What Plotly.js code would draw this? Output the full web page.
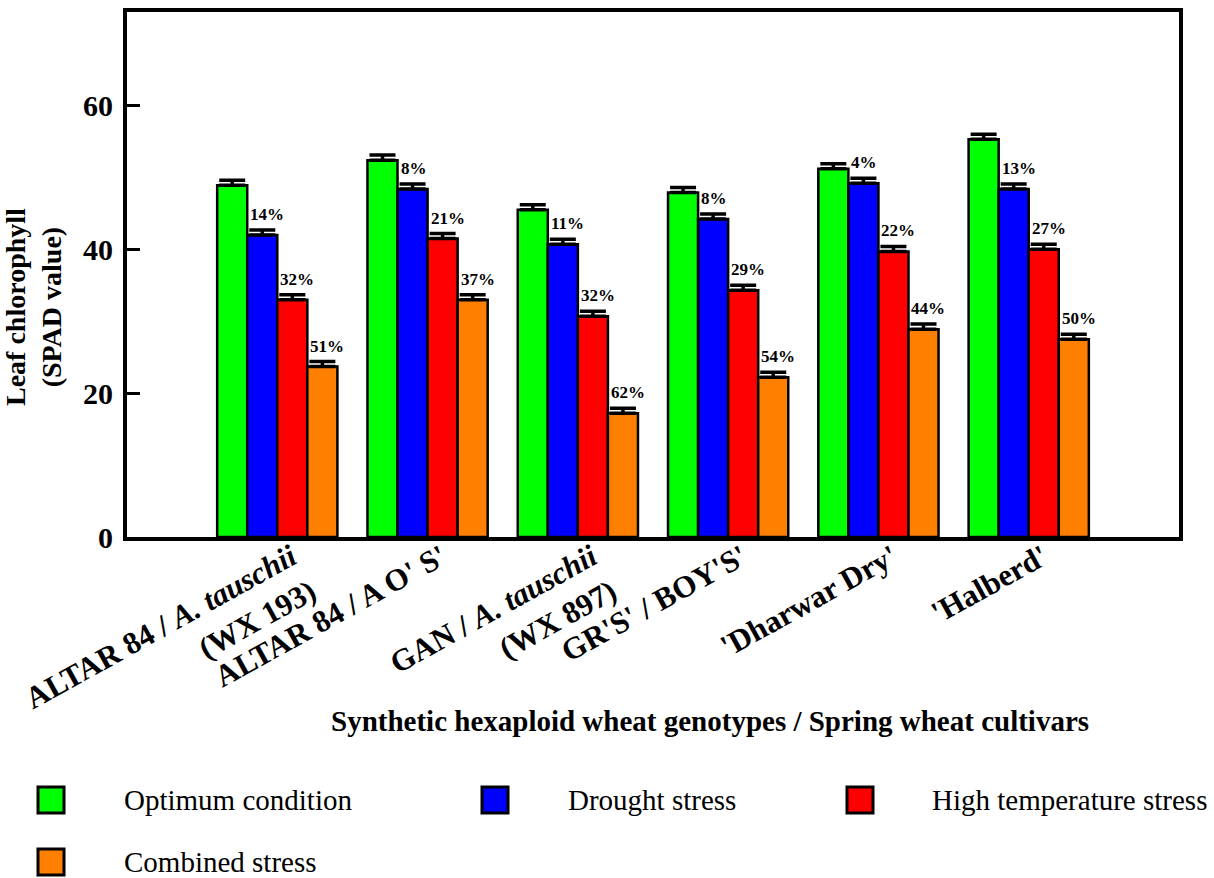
<!DOCTYPE html>
<html>
<head>
<meta charset="utf-8">
<script src="https://cdn.plot.ly/plotly-3.0.1.min.js"></script>
<style>
  html, body { margin: 0; padding: 0; background: #ffffff; }
  #chart { width: 1214px; height: 878px; }
</style>
</head>
<body>
<div id="chart"></div>
<script>
// Genotypes / cultivars on the x axis
const categories = [
  "ALTAR 84 / <i>A. tauschii</i><br>(WX 193)",
  "ALTAR 84 / A O' S'",
  "GAN / <i>A. tauschii</i><br>(WX 897)",
  "GR'S' / BOY'S'",
  "'Dharwar Dry'",
  "'Halberd'"
];

// Leaf chlorophyll (SPAD value) under each growing condition
const optimum  = [48.9, 52.4, 45.5, 47.9, 51.2, 55.3];
const drought  = [42.0, 48.4, 40.7, 44.2, 49.2, 48.4];
const heat     = [33.0, 41.5, 30.7, 34.3, 39.7, 40.0];
const combined = [23.7, 33.0, 17.2, 22.2, 28.9, 27.5];

// Standard errors
const optimumErr  = [0.7, 0.7, 0.7, 0.7, 0.7, 0.7];
const droughtErr  = [0.7, 0.7, 0.7, 0.7, 0.7, 0.7];
const heatErr     = [0.7, 0.7, 0.7, 0.7, 0.7, 0.7];
const combinedErr = [0.7, 0.7, 0.7, 0.7, 0.7, 0.7];

// Reduction relative to optimum condition
const droughtDrop  = ["14%", "8%", "11%", "8%", "4%", "13%"];
const heatDrop     = ["32%", "21%", "32%", "29%", "22%", "27%"];
const combinedDrop = ["51%", "37%", "62%", "54%", "44%", "50%"];

const seriesNames  = ["Optimum condition", "Drought stress", "High temperature stress", "Combined stress"];
const seriesColors = ["#00ff00", "#0000ff", "#ff0000", "#ff8000"];

const SERIF = "Liberation Serif, Times New Roman, serif";
const xIdx = categories.map((_, i) => i);

const values = [optimum, drought, heat, combined];
const errs   = [optimumErr, droughtErr, heatErr, combinedErr];
const drops  = [null, droughtDrop, heatDrop, combinedDrop];

const traces = values.map((v, k) => ({
  type: "bar",
  name: seriesNames[k],
  x: xIdx,
  y: v,
  marker: { color: seriesColors[k], line: { color: "#000000", width: 2.5 } },
  error_y: {
    type: "data", array: errs[k], symmetric: false,
    arrayminus: errs[k].map(() => 0),
    color: "#000000", thickness: 3.5, width: 13
  },
  showlegend: false,
  hoverinfo: "x+y"
}));

// Plot-area geometry (pixels) used for placing paper-referenced items
const M = { l: 127, r: 35, t: 12, b: 341 };
const W = 1214, H = 878;
const PW = W - M.l - M.r, PH = H - M.t - M.b;
const px = x => (x - M.l) / PW;
const py = y => (H - M.b - y) / PH;

// Percentage labels above the stressed bars
const nSeries = values.length;
const slot = 0.8 / nSeries;
const annotations = [];
drops.forEach((labels, k) => {
  if (!labels) return;
  labels.forEach((t, i) => {
    const left = i - 0.4 + slot * k;
    annotations.push({
      x: left, y: values[k][i] + errs[k][i],
      xref: "x", yref: "y",
      text: t, showarrow: false,
      xanchor: "left", yanchor: "bottom",
      xshift: 1, yshift: 4,
      font: { family: SERIF, size: 17, color: "#000000", weight: "bold" }
    });
  });
});

// Axis titles
annotations.push({
  x: px(710), y: py(721), xref: "paper", yref: "paper",
  text: "Synthetic hexaploid wheat genotypes / Spring wheat cultivars",
  showarrow: false, xanchor: "center", yanchor: "middle",
  font: { family: SERIF, size: 29, color: "#000000", weight: "bold" }
});
annotations.push({
  x: px(33), y: py(307), xref: "paper", yref: "paper",
  text: "Leaf chlorophyll<br>(SPAD value)", textangle: -90,
  showarrow: false, xanchor: "center", yanchor: "middle",
  font: { family: SERIF, size: 28, color: "#000000", weight: "bold" }
});

// Legend: swatches and names
const legendPos = [
  { x: 38, y: 800, tx: 122 },
  { x: 482, y: 800, tx: 566 },
  { x: 847, y: 800, tx: 930 },
  { x: 38, y: 862, tx: 122 }
];
const shapes = [];
seriesNames.forEach((name, k) => {
  const p = legendPos[k];
  shapes.push({
    type: "rect", xref: "paper", yref: "paper",
    x0: px(p.x), x1: px(p.x + 26), y0: py(p.y + 13), y1: py(p.y - 13),
    fillcolor: seriesColors[k], line: { color: "#000000", width: 3 }
  });
  annotations.push({
    x: px(p.tx), y: py(p.y), xref: "paper", yref: "paper",
    text: name, showarrow: false, xanchor: "left", yanchor: "middle",
    font: { family: SERIF, size: 29, color: "#000000" }
  });
});

const layout = {
  width: W, height: H,
  margin: M,
  paper_bgcolor: "#ffffff", plot_bgcolor: "#ffffff",
  barmode: "group", bargap: 0.2, bargroupgap: 0,
  showlegend: false,
  xaxis: {
    range: [-1, 6],
    tickmode: "array", tickvals: xIdx, ticktext: categories,
    tickangle: -29, ticks: "",
    ticklabelstandoff: -14, ticklabelshift: 14,
    tickfont: { family: SERIF, size: 31, color: "#000000", weight: "bold" },
    showline: true, linecolor: "#000000", linewidth: 4, mirror: true,
    showgrid: false, zeroline: false
  },
  yaxis: {
    range: [0, 73],
    tickmode: "array", tickvals: [0, 20, 40, 60],
    ticks: "inside", ticklen: 13, tickwidth: 3, tickcolor: "#000000",
    ticklabelstandoff: 4,
    tickfont: { family: SERIF, size: 30, color: "#000000", weight: "bold" },
    showline: true, linecolor: "#000000", linewidth: 4, mirror: true,
    showgrid: false, zeroline: false
  },
  annotations: annotations,
  shapes: shapes
};

Plotly.newPlot("chart", traces, layout, { staticPlot: true, displayModeBar: false });
</script>
</body>
</html>
